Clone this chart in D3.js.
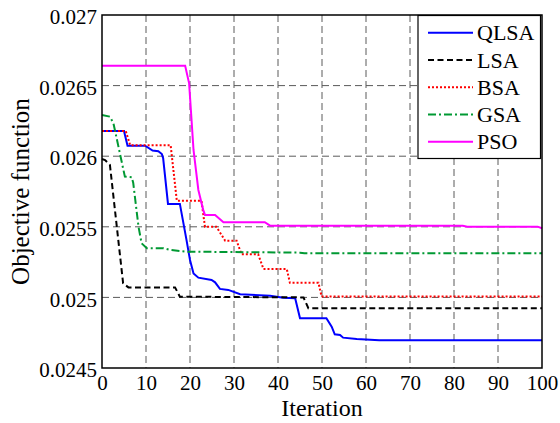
<!DOCTYPE html>
<html>
<head>
<meta charset="utf-8">
<script src="https://cdn.jsdelivr.net/npm/d3@7"></script>
<style>
  html, body { margin: 0; padding: 0; background: #fff; }
  svg { display: block; }
</style>
</head>
<body>
<svg id="chart" width="560" height="423"></svg>
<script>
// Convergence curves: objective value at breakpoints of each run (iteration, value)
const seriesNames = ["QLSA", "LSA", "BSA", "GSA", "PSO"];

const qlsaIter = [0, 5, 5.8, 9.8, 11.5, 12.8, 13.6, 13.9, 15, 17.7, 19.2, 20, 20.8, 21.9, 24.9, 25.7, 26.8, 28.7, 31.4, 38.2, 41.2, 43.9, 45, 51, 52.2, 52.9, 54.1, 54.8, 57.9, 63, 100];
const qlsaVal  = [0.026178, 0.026178, 0.026074, 0.026074, 0.02604, 0.026035, 0.026015, 0.025985, 0.025662, 0.025662, 0.025407, 0.025265, 0.02517, 0.02514, 0.025123, 0.025107, 0.02506, 0.025053, 0.025022, 0.025012, 0.024998, 0.024994, 0.024852, 0.024852, 0.024793, 0.024739, 0.024734, 0.024715, 0.024705, 0.024697, 0.024697];

const lsaIter = [0, 0.7, 1.8, 4.8, 6, 16.6, 17.7, 45.8, 46.9, 100];
const lsaVal  = [0.02598, 0.025973, 0.025938, 0.0251, 0.025071, 0.025071, 0.025005, 0.025, 0.024923, 0.024923];

const bsaIter = [0, 5.4, 6.4, 15.6, 17, 22.6, 23.4, 26, 28, 30.6, 31.7, 35.5, 36.7, 42, 42.7, 49.2, 49.9, 100];
const bsaVal  = [0.026178, 0.026178, 0.026078, 0.026078, 0.025685, 0.025685, 0.0255, 0.0255, 0.025401, 0.025401, 0.025305, 0.025305, 0.025201, 0.025201, 0.025104, 0.025104, 0.025007, 0.025007];

const gsaIter = [0, 1.8, 2.6, 5.2, 6.75, 7.1, 8.3, 9, 10.2, 14, 15.5, 19.2, 45, 46, 100];
const gsaVal  = [0.026292, 0.02628, 0.026233, 0.025855, 0.025851, 0.02581, 0.0255, 0.025383, 0.025348, 0.025348, 0.025336, 0.025324, 0.025317, 0.025312, 0.025312];

const psoIter = [0, 18.9, 19.8, 20.8, 21.9, 23, 23.4, 25.7, 27.6, 37, 38.2, 82, 83, 99, 100];
const psoVal  = [0.026641, 0.026641, 0.026516, 0.026044, 0.025761, 0.02562, 0.025584, 0.025584, 0.025532, 0.025532, 0.025508, 0.025508, 0.025501, 0.025501, 0.02549];

const xTicks = [0, 10, 20, 30, 40, 50, 60, 70, 80, 90, 100];
const xTickLabels = ["0", "10", "20", "30", "40", "50", "60", "70", "80", "90", "100"];
const yTicks = [0.0245, 0.025, 0.0255, 0.026, 0.0265, 0.027];
const yTickLabels = ["0.0245", "0.025", "0.0255", "0.026", "0.0265", "0.027"];

const xLabel = "Iteration";
const yLabel = "Objective function";

// Styling per series
const styles = {
  QLSA: { color: "#0000ff", dash: null },
  LSA:  { color: "#000000", dash: "6,3.5" },
  BSA:  { color: "#ff0000", dash: "2,2" },
  GSA:  { color: "#009933", dash: "8,3,2,3" },
  PSO:  { color: "#ff00ff", dash: null }
};

const series = [
  { name: "QLSA", x: qlsaIter, y: qlsaVal },
  { name: "LSA",  x: lsaIter,  y: lsaVal },
  { name: "BSA",  x: bsaIter,  y: bsaVal },
  { name: "GSA",  x: gsaIter,  y: gsaVal },
  { name: "PSO",  x: psoIter,  y: psoVal }
];

const FONT = "'Liberation Serif'";

const svg = d3.select("#chart");
const plot = { left: 102, right: 542, top: 15, bottom: 368 };

const x = d3.scaleLinear().domain([0, 100]).range([plot.left, plot.right]);
const y = d3.scaleLinear().domain([0.0245, 0.027]).range([plot.bottom, plot.top]);

// Grid lines
const grid = svg.append("g").attr("class", "grid");
grid.selectAll("line.vx")
  .data(xTicks.slice(1, -1))
  .join("line")
  .attr("x1", d => x(d)).attr("x2", d => x(d))
  .attr("y1", plot.top).attr("y2", plot.bottom)
  .attr("stroke", "#5a5a5a").attr("stroke-width", 1)
  .attr("stroke-dasharray", "7,4");
grid.selectAll("line.hy")
  .data(yTicks.slice(1, -1))
  .join("line")
  .attr("x1", plot.left).attr("x2", plot.right)
  .attr("y1", d => y(d)).attr("y2", d => y(d))
  .attr("stroke", "#5a5a5a").attr("stroke-width", 1)
  .attr("stroke-dasharray", "7,4");

// Axes (labels only; the frame is drawn separately)
const xAxis = d3.axisBottom(x).tickValues(xTicks)
  .tickFormat((d, i) => xTickLabels[i]).tickSize(0).tickPadding(7);
const gx = svg.append("g").attr("transform", `translate(0,${plot.bottom})`).call(xAxis)
  .attr("font-family", FONT).attr("font-size", 21);
gx.select(".domain").remove();
gx.selectAll("text").attr("fill", "#000");

const yAxis = d3.axisLeft(y).tickValues(yTicks)
  .tickFormat((d, i) => yTickLabels[i]).tickSize(0).tickPadding(5);
const gy = svg.append("g").attr("transform", `translate(${plot.left},2)`).call(yAxis)
  .attr("font-family", FONT).attr("font-size", 21);
gy.select(".domain").remove();
gy.selectAll("text").attr("fill", "#000");

// Series lines
const line = d3.line()
  .x(d => x(d[0]))
  .y(d => y(d[1]));

svg.append("g").selectAll("path")
  .data(series)
  .join("path")
  .attr("d", s => line(s.x.map((v, i) => [v, s.y[i]])))
  .attr("fill", "none")
  .attr("stroke", s => styles[s.name].color)
  .attr("stroke-width", 2)
  .attr("stroke-dasharray", s => styles[s.name].dash);

// Frame
svg.append("rect")
  .attr("x", plot.left).attr("y", plot.top)
  .attr("width", plot.right - plot.left).attr("height", plot.bottom - plot.top)
  .attr("fill", "none").attr("stroke", "#000").attr("stroke-width", 1.5);

// Axis titles
svg.append("text")
  .attr("x", (plot.left + plot.right) / 2).attr("y", 416)
  .attr("text-anchor", "middle").attr("font-size", 24).attr("font-family", FONT)
  .text(xLabel);
svg.append("text")
  .attr("transform", `translate(29,${(plot.top + plot.bottom) / 2}) rotate(-90)`)
  .attr("text-anchor", "middle").attr("font-size", 25).attr("font-family", FONT)
  .text(yLabel);

// Legend
const legend = svg.append("g").attr("font-family", FONT);
legend.append("rect")
  .attr("x", 418).attr("y", 15.5).attr("width", 122.5).attr("height", 143)
  .attr("fill", "#fff").attr("stroke", "#000").attr("stroke-width", 1.2);
const rowY = d3.scalePoint().domain(seriesNames).range([32.7, 141.7]);
const rows = legend.selectAll("g.row").data(seriesNames).join("g")
  .attr("transform", d => `translate(0,${rowY(d)})`);
rows.append("line")
  .attr("x1", 428).attr("x2", 473).attr("y1", 0).attr("y2", 0)
  .attr("stroke", d => styles[d].color).attr("stroke-width", 2)
  .attr("stroke-dasharray", d => styles[d].dash);
rows.append("text")
  .attr("x", 477).attr("y", 0).attr("dy", "0.35em")
  .attr("font-size", 22)
  .text(d => d);
</script>
</body>
</html>
